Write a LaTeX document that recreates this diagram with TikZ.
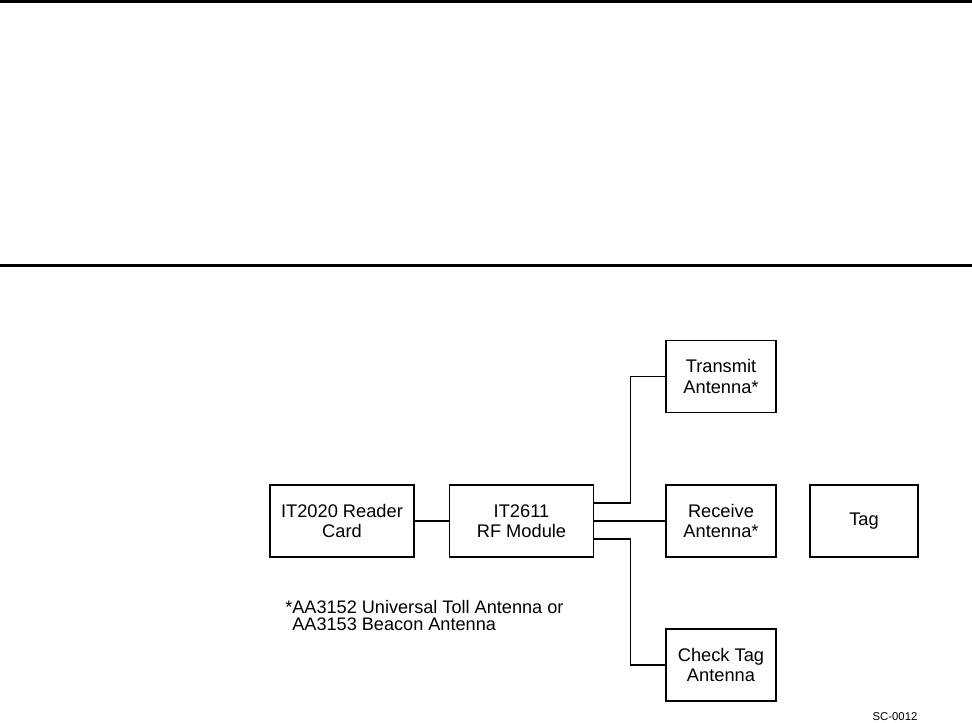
\documentclass[tikz,border=0pt]{standalone}
\usepackage{fontspec}
\setmainfont{Liberation Sans}
\usetikzlibrary{positioning, calc}

\begin{document}
\begin{tikzpicture}[x=0.75pt, y=-0.75pt,
      blk/.style={draw, line width=1.1pt, align=center, minimum height=54pt, inner sep=0pt,
                  font=\fontsize{13.7}{15.2}\selectfont},
      wire/.style={line width=1pt},
      rule/.style={line width=2.25pt}]
    \useasboundingbox (0,0) rectangle (972,722);
    % page rules
    \coordinate (r1w) at (0,1.5);   \coordinate (r1e) at (972,1.5);
    \coordinate (r2w) at (0,265.5); \coordinate (r2e) at (972,265.5);
    \draw[rule] (r1w) -- (r1e);
    \draw[rule] (r2w) -- (r2e);
    % blocks
    \node[blk, minimum width=108pt] (reader) at (342,521)   {IT2020 Reader\\Card};
    \node[blk, minimum width=108pt] (rf)     at (521.5,521) {IT2611\\RF Module};
    \node[blk, minimum width=82.5pt] (tx)    at (721,376.5) {Transmit\\Antenna*};
    \node[blk, minimum width=82.5pt] (rx)    at (721,521)   {Receive\\Antenna*};
    \node[blk, minimum width=82.5pt] (chk)   at (721,665)   {Check Tag\\Antenna};
    \node[blk, minimum width=81pt]   (tag)   at (864,521)   {Tag};
    % wiring
    \draw[wire] (reader) -- (rf);
    \draw[wire] ([yshift=13.5pt]rf.east) -- ++(27pt,0) |- (tx.west);
    \draw[wire] (rf.east) -- (rx.west);
    \draw[wire] ([yshift=-13.5pt]rf.east) -- ++(27pt,0) |- (chk.west);
    % notes
    \node[align=left, anchor=west, inner sep=0pt, font=\fontsize{13.6}{12.75}\selectfont] (note) at (285,616)
      {*AA3152 Universal Toll Antenna or\\\hphantom{*}AA3153 Beacon Antenna};
    \node[font=\fontsize{8.5}{10}\selectfont, inner sep=0pt] (ref) at (895,717) {SC-0012};
\end{tikzpicture}
\end{document}
